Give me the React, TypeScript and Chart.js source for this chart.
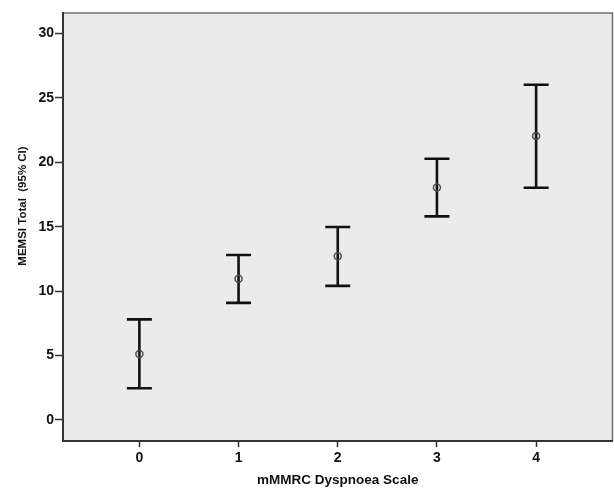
import React, { useEffect, useRef } from "react";
import { Chart, registerables } from "chart.js";

Chart.register(...registerables);

const categories = [0, 1, 2, 3, 4];
const means = [5.1, 10.95, 12.7, 18.05, 22.05];
const lowerCI = [2.45, 9.08, 10.4, 15.8, 18.02];
const upperCI = [7.8, 12.8, 14.98, 20.28, 26.03];
const yTicks = [0, 5, 10, 15, 20, 25, 30];

const xTitle = "mMMRC Dyspnoea Scale";
const yTitle = "MEMSI Total  (95% CI)";

const FONT = "'Liberation Sans', Arial, sans-serif";

const frame = {
  id: "frame",
  beforeDraw(chart: any) {
    const { ctx, chartArea: a } = chart;
    ctx.save();
    ctx.fillStyle = "#ebebeb";
    ctx.fillRect(a.left, a.top, a.right - a.left, a.bottom - a.top);
    ctx.strokeStyle = "#707070";
    ctx.lineWidth = 1.5;
    ctx.beginPath();
    ctx.moveTo(a.left, a.top);
    ctx.lineTo(a.right, a.top);
    ctx.lineTo(a.right, a.bottom);
    ctx.stroke();
    ctx.restore();
  },
  afterDraw(chart: any) {
    const { ctx, chartArea: a } = chart;
    ctx.save();
    ctx.translate(22.5, (a.top + a.bottom) / 2 - 21);
    ctx.rotate(-Math.PI / 2);
    ctx.fillStyle = "#111";
    ctx.font = `bold 11.5px ${FONT}`;
    ctx.textAlign = "center";
    ctx.textBaseline = "middle";
    ctx.fillText(yTitle, 0, 0);
    ctx.restore();
  },
};

const errorBars = {
  id: "errorBars",
  beforeDatasetsDraw(chart: any) {
    const { ctx } = chart;
    const xs = chart.scales.x;
    const ys = chart.scales.y;
    ctx.save();
    ctx.strokeStyle = "#111";
    ctx.lineWidth = 2.6;
    const half = 12.5;
    categories.forEach((c, i) => {
      const x = xs.getPixelForValue(c);
      const yl = ys.getPixelForValue(lowerCI[i]);
      const yh = ys.getPixelForValue(upperCI[i]);
      ctx.beginPath();
      ctx.moveTo(x, yl);
      ctx.lineTo(x, yh);
      ctx.moveTo(x - half, yl);
      ctx.lineTo(x + half, yl);
      ctx.moveTo(x - half, yh);
      ctx.lineTo(x + half, yh);
      ctx.stroke();
    });
    ctx.restore();
  },
};

export default function App() {
  const ref = useRef<HTMLCanvasElement>(null);
  useEffect(() => {
    document.body.style.margin = "0";
    const chart = new Chart(ref.current!, {
      type: "scatter",
      data: {
        datasets: [
          {
            data: categories.map((c, i) => ({ x: c, y: means[i] })),
            pointRadius: 3.5,
            pointBorderWidth: 1.5,
            pointBorderColor: "#4a4a4a",
            pointBackgroundColor: "rgba(0,0,0,0)",
          },
        ],
      },
      options: {
        animation: false,
        responsive: false,
        layout: { autoPadding: false, padding: { left: 0, right: 1.5, top: 13, bottom: 0 } },
        plugins: { legend: { display: false }, tooltip: { enabled: false } },
        scales: {
          x: {
            type: "linear",
            min: -0.77,
            max: 4.77,
            afterBuildTicks: (s: any) => {
              s.ticks = categories.map((v) => ({ value: v }));
            },
            afterFit: (s: any) => {
              s.height = 51;
            },
            grid: { drawOnChartArea: false, drawTicks: true, tickLength: 6, tickWidth: 1.5, tickColor: "#333" },
            border: { display: true, color: "#333", width: 2 },
            ticks: { color: "#111", font: { family: FONT, size: 14, weight: "bold" }, padding: 3, maxRotation: 0 },
            title: { display: true, text: xTitle, color: "#111", font: { family: FONT, size: 13.5, weight: "bold" }, padding: { top: 5 } },
          },
          y: {
            min: -1.65,
            max: 31.6,
            afterBuildTicks: (s: any) => {
              s.ticks = yTicks.map((v) => ({ value: v }));
            },
            afterFit: (s: any) => {
              s.width = 63;
            },
            grid: { drawOnChartArea: false, drawTicks: true, tickLength: 8, tickWidth: 1.5, tickColor: "#333" },
            border: { display: true, color: "#333", width: 2 },
            ticks: { color: "#111", font: { family: FONT, size: 14, weight: "bold" }, padding: 1 },
          },
        },
      },
      plugins: [frame, errorBars],
    } as any);
    return () => chart.destroy();
  }, []);
  return (
    <div style={{ position: "absolute", left: 0, top: 0, width: 614, height: 492, background: "#fff" }}>
      <canvas ref={ref} width={614} height={492} style={{ display: "block" }} />
    </div>
  );
}
